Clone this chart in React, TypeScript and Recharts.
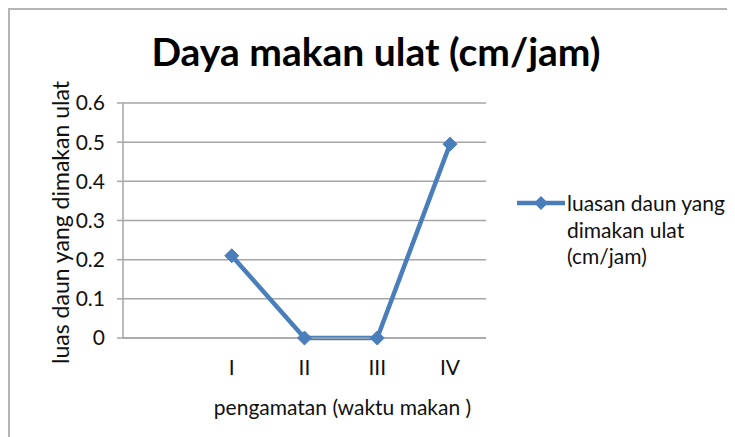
import { CartesianGrid, Legend, Line, LineChart, XAxis, YAxis } from "recharts";

const categories = ["", "I", "II", "III", "IV"];
const luasan = [null, 0.21, 0, 0, 0.495];
const yTicks = [0, 0.1, 0.2, 0.3, 0.4, 0.5, 0.6];

const data = categories.map((name, i) => ({ name, luasan: luasan[i] }));

const FONT = "Lato, 'Open Sans', sans-serif";
const BLUE = "#4a7ebb";
const GRID = "#a6a6a6";
const tickStyle = { fontSize: 21, fill: "#111", fontFamily: FONT };

function Diamond(props: any) {
  const { cx, cy, value } = props;
  if (value === null || value === undefined || cx == null || cy == null) return null;
  const r = 7;
  return (
    <polygon
      points={`${cx},${cy - r} ${cx + r},${cy} ${cx},${cy + r} ${cx - r},${cy}`}
      fill={BLUE}
      stroke={BLUE}
    />
  );
}

function LegendBox() {
  return (
    <div style={{ display: "flex", alignItems: "flex-start", fontFamily: FONT, fontSize: 21, color: "#111" }}>
      <svg width={50} height={26} style={{ flexShrink: 0 }}>
        <line x1={0} y1={13} x2={48} y2={13} stroke={BLUE} strokeWidth={4.5} />
        <polygon points="24,6 31,13 24,20 17,13" fill={BLUE} />
      </svg>
      <div style={{ lineHeight: "26.5px", width: 170, whiteSpace: "nowrap" }}>
        luasan daun yang
        <br />
        dimakan ulat
        <br />
        (cm/jam)
      </div>
    </div>
  );
}

export default function App() {
  return (
    <div
      style={{
        position: "relative",
        width: 727,
        height: 429,
        boxSizing: "border-box",
        borderTop: "2px solid #b4b4b4",
        borderLeft: "2px solid #b4b4b4",
        background: "#fff",
      }}
    >
      <div
        style={{
          position: "absolute",
          left: 0,
          width: 732,
          top: 18,
          textAlign: "center",
          fontFamily: FONT,
          fontWeight: 700,
          fontSize: 39,
          color: "#000",
          zIndex: 2,
        }}
      >
        Daya makan ulat (cm/jam)
      </div>
      <LineChart width={725} height={427} data={data} margin={{ top: 93, right: 249, left: 0, bottom: 19 }}>
        <CartesianGrid vertical={false} stroke={GRID} strokeWidth={1.5} />
        <XAxis
          dataKey="name"
          padding={{ left: 36, right: 36 }}
          axisLine={{ stroke: GRID, strokeWidth: 1.5 }}
          tickLine={false}
          tickSize={6}
          tickMargin={16}
          height={80}
          interval={0}
          tick={tickStyle}
          label={{
            value: "pengamatan (waktu makan )",
            position: "center",
            dx: 38,
            dy: 30,
            style: { fontSize: 21, fill: "#111", fontFamily: FONT },
          }}
        />
        <YAxis
          width={113}
          domain={[0, 0.6]}
          ticks={yTicks}
          interval={0}
          axisLine={{ stroke: GRID, strokeWidth: 1.5 }}
          tickLine={{ stroke: GRID, strokeWidth: 1.5 }}
          tickSize={6}
          tickMargin={12}
          tick={tickStyle}
          label={{
            value: "luas daun yang dimakan  ulat",
            angle: -90,
            position: "center",
            dx: -6,
            dy: 2,
            style: { fontSize: 23, fill: "#111", fontFamily: FONT, whiteSpace: "pre" },
          }}
        />
        <Legend
          layout="horizontal"
          verticalAlign="middle"
          align="center"
          wrapperStyle={{ left: 507, top: 180, width: 218 }}
          content={() => <LegendBox />}
        />
        <Line
          dataKey="luasan"
          stroke={BLUE}
          strokeWidth={4.5}
          dot={<Diamond />}
          activeDot={false}
          isAnimationActive={false}
          legendType="diamond"
        />
      </LineChart>
    </div>
  );
}
